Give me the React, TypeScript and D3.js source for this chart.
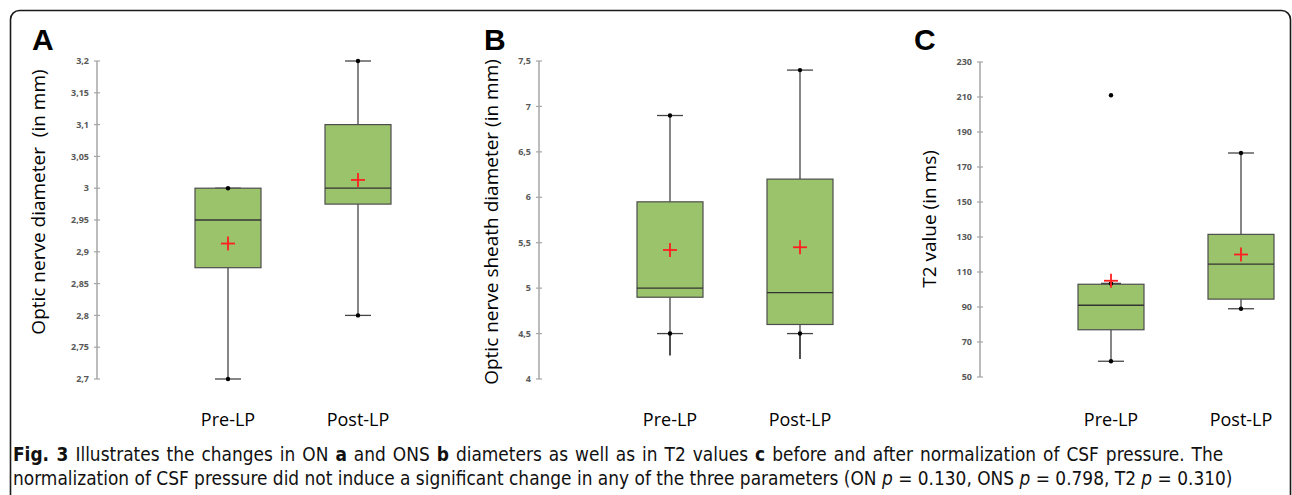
import * as d3 from 'd3';
import React from 'react';

const groups = ['Pre-LP', 'Post-LP'];

// panel A: optic nerve diameter
const onTicks = [2.7, 2.75, 2.8, 2.85, 2.9, 2.95, 3, 3.05, 3.1, 3.15, 3.2];
const onStats = [
  { min: 2.7, q1: 2.875, median: 2.95, q3: 3.0, max: 3.0, mean: 2.913 },
  { min: 2.8, q1: 2.975, median: 3.0, q3: 3.1, max: 3.2, mean: 3.013 },
];

// panel B: optic nerve sheath diameter
const onsTicks = [4, 4.5, 5, 5.5, 6, 6.5, 7, 7.5];
const onsStats = [
  { min: 4.5, q1: 4.9, median: 5.0, q3: 5.95, max: 6.9, mean: 5.42, tail: 4.26 },
  { min: 4.5, q1: 4.6, median: 4.95, q3: 6.2, max: 7.4, mean: 5.45, tail: 4.22 },
];

// panel C: T2 value
const t2Ticks = [50, 70, 90, 110, 130, 150, 170, 190, 210, 230];
const t2Stats = [
  { min: 59, q1: 77, median: 91, q3: 103, max: 103.5, mean: 105 },
  { min: 89, q1: 94.5, median: 114.5, q3: 131.5, max: 178, mean: 120 },
];
const t2Outliers = [[211], []];

const commaFmt = d3.formatLocale({ decimal: ',', thousands: '.', grouping: [3], currency: ['', ''] }).format('~g');

type Stat = { min: number; q1: number; median: number; q3: number; max: number; mean: number; tail?: number };

interface PanelProps {
  letter: string;
  letterX: number;
  axisX: number;
  top: number;
  bottom: number;
  ticks: number[];
  stats: Stat[];
  outliers?: number[][];
  label: string;
  labelX: number;
  labelY: number;
  capW?: number[];
}

const Panel: React.FC<PanelProps> = ({ letter, letterX, axisX, top, bottom, ticks, stats, outliers, label, labelX, labelY, capW }) => {
  const y = d3.scaleLinear().domain(d3.extent(ticks) as [number, number]).range([bottom, top]);
  const x = d3.scaleBand<string>().domain(groups).range([axisX + 66, axisX + 326]);
  const boxW = 66;
  return (
    <g>
      <text x={letterX} y={50} fontFamily="Liberation Sans, Arial, sans-serif" fontWeight="bold" fontSize={30} fill="#000">{letter}</text>
      <line x1={axisX} x2={axisX} y1={top} y2={bottom} stroke="#a6a6a6" strokeWidth={1.5} />
      {ticks.map(t => (
        <g key={t}>
          <line x1={axisX - 3} x2={axisX + 3} y1={y(t)} y2={y(t)} stroke="#a6a6a6" strokeWidth={1.2} />
          <text x={axisX - 8} y={y(t)} dy="0.35em" textAnchor="end" fontFamily="'Open Sans', sans-serif" fontWeight="bold" fontSize={9} fill="#595959">{commaFmt(t)}</text>
        </g>
      ))}
      <text transform={`translate(${labelX},${labelY}) rotate(-90)`} textAnchor="middle" dy="0.35em" fontFamily="'Open Sans', sans-serif" fontSize={19} fill="#000" xmlSpace="preserve">{label}</text>
      {stats.map((s, i) => {
        const cx = (x(groups[i]) as number) + x.bandwidth() / 2;
        const cw = capW ? capW[i] : 13;
        return (
          <g key={i}>
            {s.tail !== undefined && (
              <line x1={cx} x2={cx} y1={y(s.min)} y2={y(s.tail)} stroke="#222" strokeWidth={1.6} />
            )}
            <line x1={cx} x2={cx} y1={y(s.max)} y2={y(s.q3)} stroke="#444" strokeWidth={1.3} />
            <line x1={cx} x2={cx} y1={y(s.q1)} y2={y(s.min)} stroke="#444" strokeWidth={1.3} />
            <line x1={cx - cw} x2={cx + cw} y1={y(s.max)} y2={y(s.max)} stroke="#444" strokeWidth={1.3} />
            <line x1={cx - 13} x2={cx + 13} y1={y(s.min)} y2={y(s.min)} stroke="#444" strokeWidth={1.3} />
            <rect x={cx - boxW / 2} y={y(s.q3)} width={boxW} height={y(s.q1) - y(s.q3)} fill="#9bc36b" stroke="#4d4d4d" strokeWidth={1.2} />
            <line x1={cx - boxW / 2} x2={cx + boxW / 2} y1={y(s.median)} y2={y(s.median)} stroke="#333" strokeWidth={1.3} />
            <circle cx={cx} cy={y(s.max)} r={2.2} fill="#000" />
            <circle cx={cx} cy={y(s.min)} r={2.2} fill="#000" />
            {outliers && outliers[i].map(o => <circle key={o} cx={cx} cy={y(o)} r={2.2} fill="#000" />)}
            <line x1={cx - 7} x2={cx + 7} y1={y(s.mean)} y2={y(s.mean)} stroke="#ff2020" strokeWidth={1.8} />
            <line x1={cx} x2={cx} y1={y(s.mean) - 7} y2={y(s.mean) + 7} stroke="#ff2020" strokeWidth={1.8} />
            <text x={cx} y={426} textAnchor="middle" fontFamily="'Open Sans', sans-serif" fontSize={18} fill="#000">{groups[i]}</text>
          </g>
        );
      })}
    </g>
  );
};

export default function App() {
  const capFont = "'DejaVu Sans Condensed', 'Liberation Sans Narrow', sans-serif";
  return (
    <svg width={1292} height={495} style={{ position: 'absolute', left: 0, top: 0, background: '#fff' }}>
      <rect x={10.5} y={10.5} width={1280} height={520} rx={9} fill="none" stroke="#1a1a1a" strokeWidth={1.6} />
      <Panel letter="A" letterX={32} axisX={97} top={61} bottom={379} ticks={onTicks} stats={onStats}
        label="Optic nerve diameter  (in mm)" labelX={38} labelY={202} />
      <Panel letter="B" letterX={484} axisX={539} top={61} bottom={379} ticks={onsTicks} stats={onsStats}
        label="Optic nerve sheath diameter (in mm)" labelX={491} labelY={222} />
      <Panel letter="C" letterX={914} axisX={980} top={62} bottom={377} ticks={t2Ticks} stats={t2Stats} outliers={t2Outliers}
        label="T2 value (in ms)" labelX={929} labelY={219} capW={[10, 13]} />
      <text x={13} y={461} fontFamily={capFont} fontSize={18.9} fill="#111" wordSpacing={1.6}>
        <tspan fontWeight="bold">Fig. 3</tspan> Illustrates the changes in ON <tspan fontWeight="bold">a</tspan> and ONS <tspan fontWeight="bold">b</tspan> diameters as well as in T2 values <tspan fontWeight="bold">c</tspan> before and after normalization of CSF pressure. The
      </text>
      <text x={13} y={485} fontFamily={capFont} fontSize={18.9} fill="#111">
        normalization of CSF pressure did not induce a significant change in any of the three parameters (ON <tspan fontStyle="italic">p</tspan> = 0.130, ONS <tspan fontStyle="italic">p</tspan> = 0.798, T2 <tspan fontStyle="italic">p</tspan> = 0.310)
      </text>
    </svg>
  );
}
